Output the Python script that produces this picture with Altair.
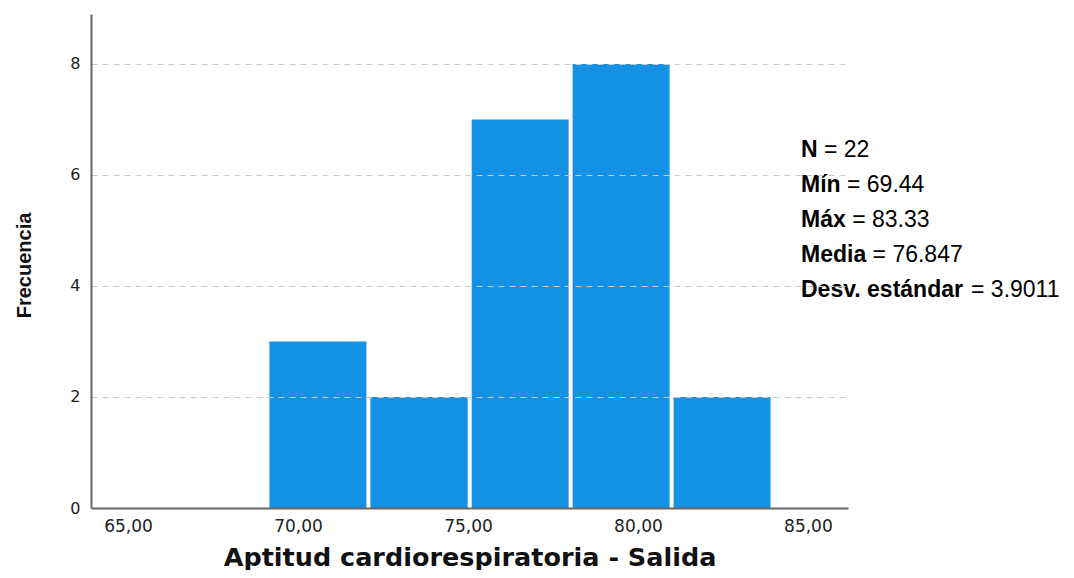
import altair as alt
import pandas as pd

# ---- data ----
bin_start = [69.10, 72.07, 75.05, 78.02, 80.99]
bin_end = [72.07, 75.05, 78.02, 80.99, 83.96]
counts = [3, 2, 7, 8, 2]

x_ticks = [65, 70, 75, 80, 85]
y_ticks = [0, 2, 4, 6, 8]

stat_labels = ["N", "Mín", "Máx", "Media", "Desv. estándar"]
stat_values = ["22", "69.44", "83.33", "76.847", "3.9011"]

# ---- layout for the statistics block (pixels relative to plot area) ----
STAT_FONT = "Liberation Sans"
STAT_SIZE = 23
stat_label_x = 710
stat_y0 = 143
stat_dy = 35

# Arial/Liberation Sans Bold advance widths (per 1000 em) to place the
# regular "= value" text right after each bold label
BOLD_W = {"N": 722, "M": 833, "í": 278, "n": 611, "á": 556, "x": 556,
          "e": 556, "d": 611, "i": 278, "a": 556, "D": 722, "s": 556,
          "v": 556, ".": 278, " ": 278, "t": 333, "r": 389}
SPACE_W = 278


def label_width(s):
    return sum(BOLD_W.get(c, 556) for c in s) * STAT_SIZE / 1000.0


stat_value_x = [stat_label_x + label_width(s) + SPACE_W * STAT_SIZE / 1000.0
                for s in stat_labels]

bins = pd.DataFrame({"start": bin_start, "end": bin_end, "count": counts})

stats = pd.DataFrame({
    "label": stat_labels,
    "value": ["= " + v for v in stat_values],
    "line": list(range(len(stat_labels))),
    "vx": stat_value_x,
})

BLUE = "#1591E6"

bars = alt.Chart(bins).mark_bar(color=BLUE, xOffset=2, x2Offset=-2).encode(
    x=alt.X(
        "start:Q",
        scale=alt.Scale(domain=[63.91, 86.18], nice=False, zero=False),
        axis=alt.Axis(
            values=x_ticks,
            labelExpr="replace(format(datum.value, '.2f'), '.', ',')",
            title="Aptitud cardiorespiratoria - Salida",
            titleFont="DejaVu Sans",
            titleFontSize=25.5,
            titleFontWeight="bold",
            titleColor="#111111",
            titleBaseline="alphabetic",
            titleY=57,
            ticks=False,
            grid=False,
            labelFont="DejaVu Sans",
            labelFontSize=17,
            labelColor="#222222",
            labelPadding=10,
            domainColor="#666666",
            domainWidth=2,
            labelFlush=False,
            zindex=1,
        ),
    ),
    x2="end:Q",
    y=alt.Y(
        "count:Q",
        scale=alt.Scale(domain=[0, 8.9], nice=False),
        axis=alt.Axis(
            values=y_ticks,
            format="d",
            title="Frecuencia",
            titleFont="Liberation Sans",
            titleFontSize=20,
            titleFontWeight="bold",
            titleColor="#111111",
            titleAngle=270,
            titleAlign="center",
            titleBaseline="alphabetic",
            titleX=-61,
            titleY=251,
            ticks=False,
            grid=True,
            gridDash=[6, 5],
            gridColor="#c8c8c8",
            gridWidth=1,
            labelFont="DejaVu Sans",
            labelFontSize=16,
            labelColor="#222222",
            labelPadding=11,
            domainColor="#666666",
            domainWidth=2,
            zindex=1,
        ),
    ),
    y2=alt.datum(0),
)

stat_base = alt.Chart(stats).transform_calculate(
    py=f"{stat_y0} + {stat_dy} * datum.line"
)

stat_lbl = stat_base.mark_text(
    font=STAT_FONT, fontSize=STAT_SIZE, fontWeight="bold",
    align="left", baseline="alphabetic", color="#000000",
).encode(
    x=alt.value(stat_label_x),
    y=alt.Y("py:Q", scale=None, axis=None),
    text="label:N",
)

stat_val = stat_base.mark_text(
    font=STAT_FONT, fontSize=STAT_SIZE,
    align="left", baseline="alphabetic", color="#000000",
).encode(
    x=alt.X("vx:Q", scale=None, axis=None),
    y=alt.Y("py:Q", scale=None, axis=None),
    text="value:N",
)

chart = alt.layer(bars, stat_lbl, stat_val).resolve_scale(
    x="independent", y="independent"
).properties(
    width=757,
    height=494,
    background="white",
    autosize=alt.AutoSizeParams(type="none"),
    padding={"left": 83, "top": 6, "right": 218, "bottom": 62},
).configure_view(stroke=None)

chart.save("out.html", embed_options={"renderer": "svg", "actions": False})
